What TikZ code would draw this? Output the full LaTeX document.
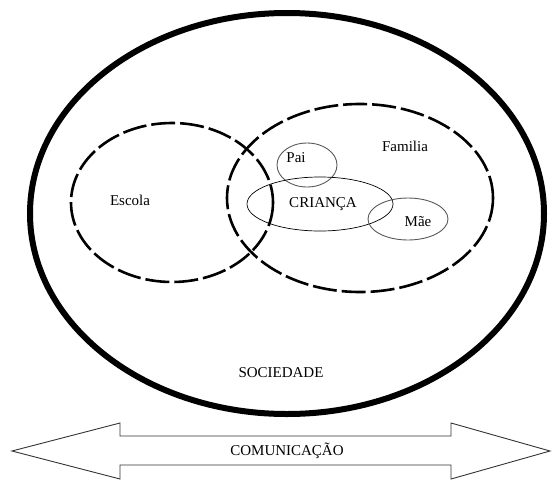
\documentclass[tikz,border=0pt]{standalone}
\usepackage{fontspec}
\setmainfont{Liberation Serif}
\begin{document}
\begin{tikzpicture}[x=1pt,y=-1pt,
  lbl/.style={inner sep=0pt,font=\fontsize{15}{18}\selectfont},
  outerring/.style={line width=6pt},
  dashring/.style={line width=2.6pt,dash pattern=on 24pt off 5pt},
  thinring/.style={line width=0.9pt,draw=black!65},
  childring/.style={line width=0.7pt,draw=black}]
\useasboundingbox (0,0) rectangle (552,480);
% Sociedade
\draw[outerring] (287,213.5) ellipse [x radius=257, y radius=200.5];
% Escola and Familia
\draw[dashring] (172,202.5) ellipse [x radius=101, y radius=79.5];
\draw[dashring] (360,198) ellipse [x radius=133, y radius=94];
% Pai, Crianca, Mae
\draw[thinring] (307,165) ellipse [x radius=30, y radius=22];
\draw[childring] (320,204) ellipse [x radius=73, y radius=27];
\draw[thinring] (408,219) ellipse [x radius=40, y radius=21];
% labels
\node[lbl] (escola) at (130,200) {Escola};
\node[lbl] (familia) at (405,146) {Familia};
\node[lbl] (pai) at (296,158) {Pai};
\node[lbl] (crianca) at (323,204) {CRIANÇA};
\node[lbl] (mae) at (418,222) {Mãe};
\node[lbl] (sociedade) at (281,373) {SOCIEDADE};
% communication arrow
\draw[line width=0.9pt,draw=black!80,line join=miter]
  (12,451) -- (120,423) -- (120,436) -- (451,436) -- (451,423) -- (550,451)
  -- (451,479) -- (451,465) -- (120,465) -- (120,479) -- cycle;
\node[lbl] (comunicacao) at (287,451) {COMUNICAÇÃO};
\end{tikzpicture}
\end{document}
